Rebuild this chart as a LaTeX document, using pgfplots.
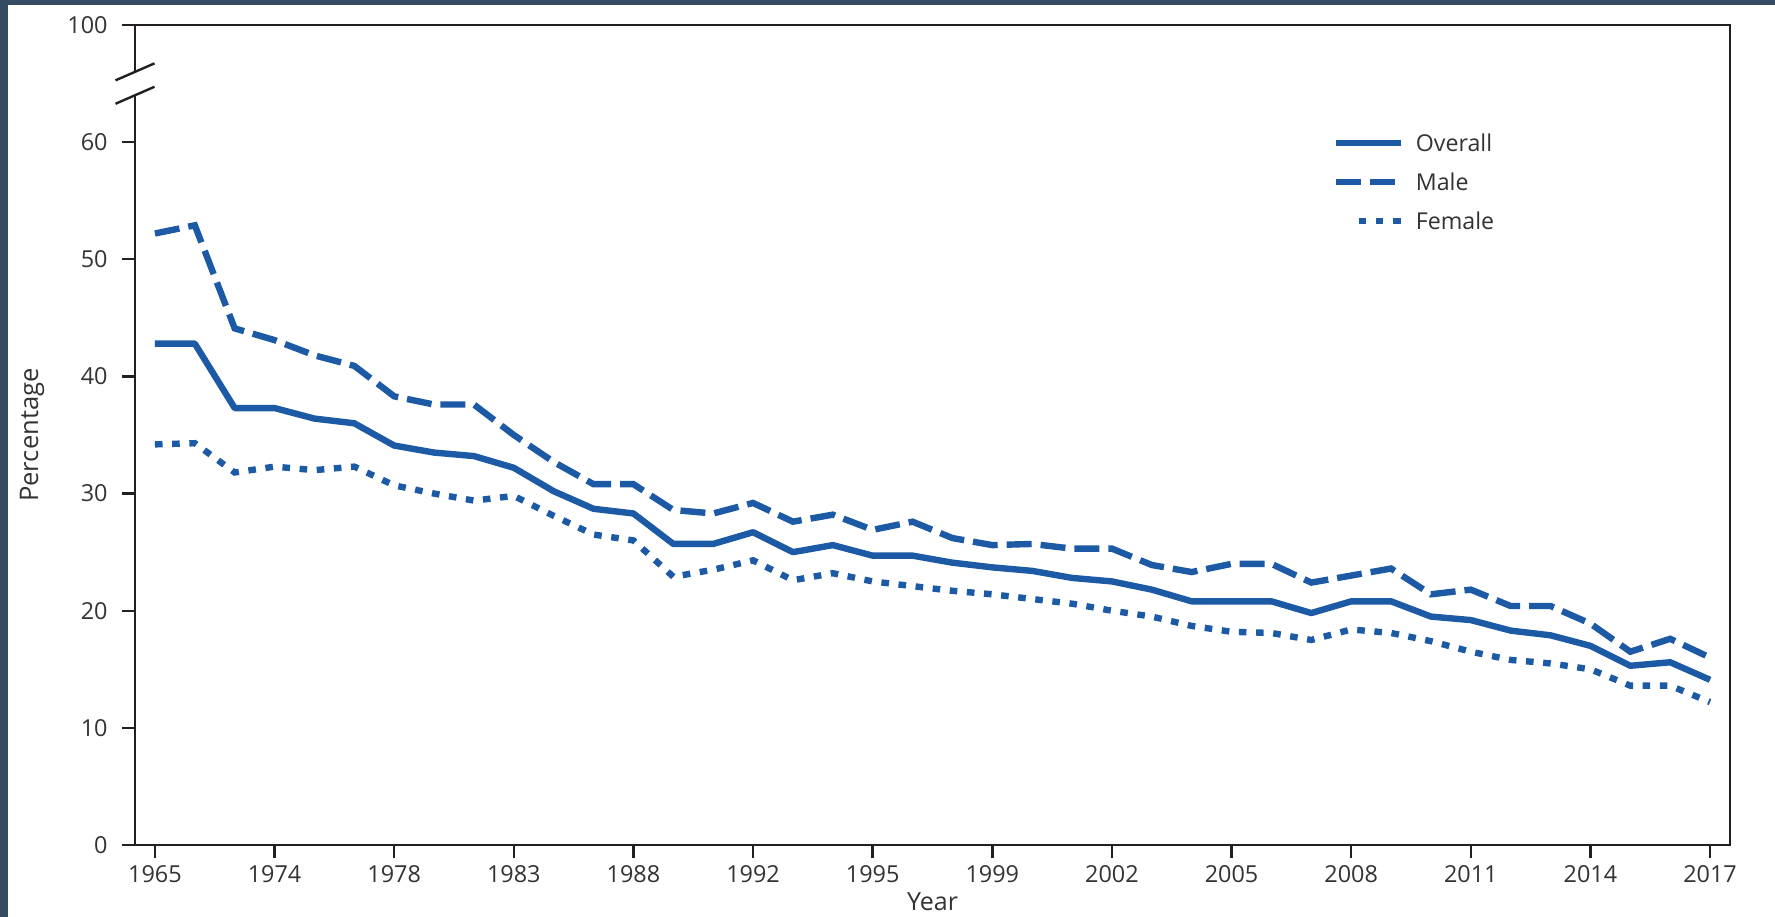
\documentclass[border=0pt]{standalone}
\usepackage{pgfplots}
\pgfplotsset{compat=1.18}
\usepackage{pgfplotstable}
\usepackage{fontspec}
\setmainfont{Open Sans}
\definecolor{frameblue}{HTML}{354B62}
\definecolor{lineblue}{HTML}{1D5AA6}
\definecolor{axisk}{HTML}{231F20}
\definecolor{txt}{HTML}{333333}
\pgfplotsset{femaleleg/.style={legend image code/.code={\draw[##1] (11.5bp,0bp) -- (32.5bp,0bp);}}}

\pgfplotstableread{
idx overall male female
0 42.8 52.2 34.2
1 42.8 52.9 34.3
2 37.3 44.1 31.8
3 37.3 43.1 32.3
4 36.4 41.8 32.0
5 36.0 40.9 32.3
6 34.1 38.3 30.7
7 33.5 37.6 30.0
8 33.2 37.6 29.4
9 32.2 35.0 29.8
10 30.2 32.7 28.1
11 28.7 30.8 26.5
12 28.3 30.8 26.0
13 25.7 28.6 22.9
14 25.7 28.3 23.5
15 26.7 29.2 24.3
16 25.0 27.6 22.6
17 25.6 28.2 23.2
18 24.7 26.9 22.5
19 24.7 27.6 22.1
20 24.1 26.2 21.7
21 23.7 25.6 21.4
22 23.4 25.7 21.0
23 22.8 25.3 20.6
24 22.5 25.3 20.0
25 21.8 23.9 19.5
26 20.8 23.3 18.7
27 20.8 24.0 18.2
28 20.8 24.0 18.1
29 19.8 22.4 17.5
30 20.8 23.0 18.4
31 20.8 23.6 18.1
32 19.5 21.4 17.4
33 19.2 21.8 16.5
34 18.3 20.4 15.8
35 17.9 20.4 15.5
36 17.0 18.9 15.0
37 15.3 16.5 13.6
38 15.6 17.6 13.6
39 14.1 16.0 12.2
}\smoking

\begin{document}
\begin{tikzpicture}
\useasboundingbox (0,0) rectangle (887.5bp,458.5bp);
\fill[white] (0,0) rectangle (887.5bp,458.5bp);
\fill[frameblue] (0,0) rectangle (3.75bp,458.5bp);
\fill[frameblue] (0,456bp) rectangle (887.5bp,458.5bp);
\begin{axis}[
  at={(67.5bp,36bp)}, anchor=south west,
  scale only axis, width=797.5bp, height=410bp,
  xmin=-0.5, xmax=39.5, ymin=0, ymax=70,
  xtick={0,3,...,39},
  xticklabels={1965,1974,1978,1983,1988,1992,1995,1999,2002,2005,2008,2011,2014,2017},
  ytick={0,10,20,30,40,50,60,70},
  yticklabels={0,10,20,30,40,50,60,100},
  tick align=outside, xtick pos=left, ytick pos=left,
  major tick length=6.5bp,
  tick style={axisk, line width=1.2bp},
  axis line style={axisk, line width=1.2bp},
  /pgf/number format/assume math mode=true,
  tick label style={font=\fontsize{11.7bp}{14bp}\selectfont, text=txt},
  xticklabel style={inner sep=0pt, anchor=north, yshift=-3.5bp},
  yticklabel style={inner sep=0pt, anchor=east, xshift=-7bp},
  xlabel={Year}, ylabel={Percentage},
  every axis x label/.style={at={(rel axis cs:0.5,0)}, anchor=north, yshift=-23.5bp, inner sep=0pt, font=\fontsize{12.5bp}{14bp}\selectfont, text=txt},
  every axis y label/.style={at={(rel axis cs:0,0.5)}, xshift=-51.5bp, rotate=90, anchor=center, inner sep=0pt, font=\fontsize{12.8bp}{14bp}\selectfont, text=txt},
  legend style={at={(0.7505,1)}, anchor=north west, yshift=-54.7bp, draw=none, fill=none, inner sep=0pt, row sep=11.2bp,
    nodes={inner sep=0pt, text height=8.3bp, text depth=0pt, font=\fontsize{11.6bp}{14bp}\selectfont, text=txt},
    /tikz/every odd column/.append style={column sep=6bp}},
  legend cell align=left,
  legend image code/.code={\draw[#1] (0bp,0bp) -- (32.5bp,0bp);},
]
\addplot[lineblue, line width=3.2bp, line join=round] table[x=idx,y=overall]{\smoking};
\addlegendentry{Overall}
\addplot[lineblue, line width=3.2bp, dash pattern=on 12.5bp off 4.5bp] table[x=idx,y=male]{\smoking};
\addlegendentry{Male}
\addplot[lineblue, line width=3.2bp, dash pattern=on 3.8bp off 4.8bp, femaleleg] table[x=idx,y=female]{\smoking};
\addlegendentry{Female}
\coordinate (b1) at (rel axis cs:0,0.942857);
\coordinate (b2) at (rel axis cs:0,0.914286);
\end{axis}
\fill[white] ([xshift=-1.5bp]b2) rectangle ([xshift=1.5bp]b1);
\draw[axisk, line width=1.2bp] ([shift={(-9.75bp,-4.25bp)}]b1) -- ([shift={(9.75bp,4.25bp)}]b1);
\draw[axisk, line width=1.2bp] ([shift={(-9.75bp,-4.25bp)}]b2) -- ([shift={(9.75bp,4.25bp)}]b2);
\end{tikzpicture}
\end{document}
